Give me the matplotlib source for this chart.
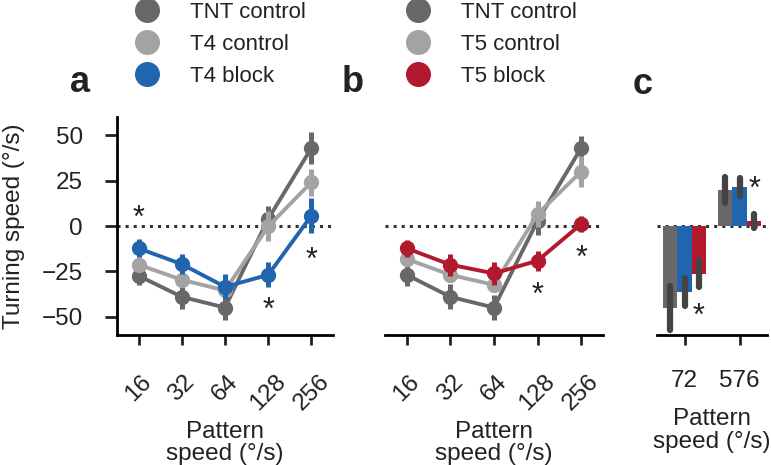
"""Turning speed vs pattern speed, T4/T5 block
"""
import numpy as np
import matplotlib
matplotlib.use('Agg')
import matplotlib.pyplot as plt
from matplotlib.lines import Line2D

plt.rcParams['font.family'] = ['Liberation Sans', 'DejaVu Sans']
plt.rcParams['font.size'] = 17.5
plt.rcParams['text.color'] = '#222222'
plt.rcParams['axes.labelcolor'] = '#222222'
plt.rcParams['xtick.color'] = '#222222'
plt.rcParams['ytick.color'] = '#222222'

# data
speeds = ['16', '32', '64', '128', '256']

tnt_a = [-27.4, -39.0, -44.9, 3.9, 42.9]
tnt_a_err = [5.0, 6.9, 6.9, 6.9, 8.7]
t4_ctrl = [-21.3, -29.6, -35.5, -0.2, 24.1]
t4_ctrl_err = [4.0, 4.0, 3.7, 8.3, 7.5]
t4_block = [-12.3, -21.0, -33.5, -26.9, 5.7]
t4_block_err = [5.0, 5.5, 6.9, 6.9, 9.5]

tnt_b = [-26.9, -39.0, -44.9, 2.9, 42.9]
tnt_b_err = [6.0, 6.9, 6.9, 8.0, 6.9]
t5_ctrl = [-18.2, -26.9, -32.4, 6.6, 30.0]
t5_ctrl_err = [4.0, 4.0, 4.0, 6.9, 8.7]
t5_block = [-12.3, -21.3, -26.1, -19.1, 1.1]
t5_block_err = [4.6, 6.0, 6.4, 5.5, 4.6]

bar_speeds = ['72', '576']
bar_tnt = [-45.3, 19.9]
bar_tnt_err = [12.0, 7.0]
bar_t4 = [-36.4, 21.5]
bar_t4_err = [7.7, 5.0]
bar_t5 = [-26.5, 2.8]
bar_t5_err = [7.0, 4.0]

# significance stars: (x index, y value)
stars_a = [(0, 9.4), (3, -41.4), (4, -13.8)]
stars_b = [(3, -33.1), (4, -12.7)]
stars_c = [(0.26, -44.7), (1.27, 25.4)]

c_tnt = '#686868'
c_ctrl = '#a3a3a3'
c_t4 = '#2065ad'
c_t5 = '#b3192e'
c_err = '#444444'

fig = plt.figure(figsize=(7.71, 4.65), dpi=100)
ax_a = fig.add_axes([117 / 771, 130 / 465, 216 / 771, 218 / 465])
ax_b = fig.add_axes([385 / 771, 130 / 465, 218 / 771, 218 / 465])
ax_c = fig.add_axes([657 / 771, 130 / 465, 110 / 771, 218 / 465])


def style_axis(ax, show_y):
    for s in ['top', 'right']:
        ax.spines[s].set_visible(False)
    ax.spines['bottom'].set_linewidth(2)
    ax.spines['left'].set_linewidth(2)
    ax.tick_params(width=2, length=7.5, pad=4)
    ax.set_ylim(-60, 60)
    if show_y:
        ax.set_yticks([-50, -25, 0, 25, 50])
        ax.set_yticklabels(['\u221250', '\u221225', '0', '25', '50'])
        ax.tick_params(axis='y', length=8.5, pad=16)
    else:
        ax.spines['left'].set_visible(False)
        ax.set_yticks([])
    ax.axhline(0, color='#333333', linestyle=':', linewidth=2.2, zorder=0)


def line_panel(ax, series):
    x = np.arange(len(speeds))
    for i, (vals, err, col) in enumerate(series):
        ax.errorbar(x, vals, yerr=err, color=col, marker='o', markersize=10,
                    linewidth=2.8, elinewidth=3.6, capsize=0, zorder=2 + i)
    ax.set_xlim(-0.5, 4.5)
    ax.set_xticks(x)
    ax.set_xticklabels(speeds, rotation=45, ha='center')
    ax.tick_params(axis='x', pad=18)
    ax.set_xlabel('Pattern\nspeed (°/s)', labelpad=4.5, linespacing=1.02)


style_axis(ax_a, True)
line_panel(ax_a, [(tnt_a, tnt_a_err, c_tnt), (t4_ctrl, t4_ctrl_err, c_ctrl),
                  (t4_block, t4_block_err, c_t4)])
ax_a.set_ylabel('Turning speed (°/s)', labelpad=12)

style_axis(ax_b, False)
line_panel(ax_b, [(tnt_b, tnt_b_err, c_tnt), (t5_ctrl, t5_ctrl_err, c_ctrl),
                  (t5_block, t5_block_err, c_t5)])

# panel c bars
style_axis(ax_c, False)
xb = np.arange(len(bar_speeds))
w = 0.26
for off, vals, err, col in [(-w, bar_tnt, bar_tnt_err, c_tnt),
                            (0, bar_t4, bar_t4_err, c_t4),
                            (w, bar_t5, bar_t5_err, c_t5)]:
    ax_c.bar(xb + off, vals, width=w, color=col, zorder=1)
    eb = ax_c.errorbar(xb + off, vals, yerr=err, fmt='none', ecolor=c_err,
                       elinewidth=4.5, capsize=0, zorder=3)
    for lc in eb[2]:
        lc.set_capstyle('round')
ax_c.set_xlim(-0.5, 1.5)
ax_c.set_xticks(xb)
ax_c.set_xticklabels(bar_speeds)
ax_c.tick_params(axis='x', pad=18)
ax_c.set_xlabel('Pattern\nspeed (°/s)', labelpad=11.5, linespacing=1.02)

for ax, stars in [(ax_a, stars_a), (ax_b, stars_b), (ax_c, stars_c)]:
    for sx, sy in stars:
        ax.annotate('*', (sx, sy), xytext=(0, -7), textcoords='offset points',
                    fontsize=22, ha='center', va='center', zorder=10)

# panel letters
fig.text(80 / 771, 1 - 82 / 465, 'a', fontsize=26, fontweight='bold',
         ha='center', va='center')
fig.text(353 / 771, 1 - 82 / 465, 'b', fontsize=26, fontweight='bold',
         ha='center', va='center')
fig.text(643 / 771, 1 - 84 / 465, 'c', fontsize=26, fontweight='bold',
         ha='center', va='center')


# legends
def make_legend(ax, labels, colors, x):
    handles = [Line2D([], [], marker='o', linestyle='none', markersize=17,
                      color=c) for c in colors]
    ax.legend(handles, labels, loc='upper left',
              bbox_to_anchor=(x, 1 - 2 / 465),
              bbox_transform=fig.transFigure, frameon=False,
              handlelength=1.0, handletextpad=1.45, labelspacing=0.5,
              borderaxespad=0, borderpad=0, fontsize=16)


make_legend(ax_a, ['TNT control', 'T4 control', 'T4 block'],
            [c_tnt, c_ctrl, c_t4], 136 / 771)
make_legend(ax_b, ['TNT control', 'T5 control', 'T5 block'],
            [c_tnt, c_ctrl, c_t5], 407 / 771)

fig.savefig('out.png', dpi=100)
